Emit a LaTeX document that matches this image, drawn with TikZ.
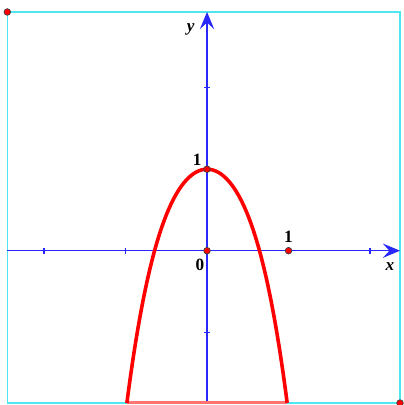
\documentclass[tikz,border=0pt]{standalone}
\usepackage{fontspec}
\setmainfont{Liberation Serif}
\usetikzlibrary{arrows.meta}
\definecolor{axisblue}{RGB}{40,40,250}
\definecolor{framecyan}{RGB}{80,230,240}

\begin{document}
\begin{tikzpicture}[
  axis/.style={draw=axisblue, line width=0.45pt,
    -{Stealth[length=6pt, width=5pt, inset=2.3pt]}},
  ticmark/.style={draw=axisblue, line width=0.45pt},
  curve/.style={draw=red, line width=1.25pt},
  dot/.style={circle, fill=red, draw=black!75, line width=0.25pt,
    inner sep=0pt, minimum size=2.3pt},
  lab/.style={font=\fontsize{6}{7}\selectfont\bfseries, inner sep=0pt}
]
\useasboundingbox (-2.540,-1.893) rectangle (2.405,3.076);
% frame
\coordinate (fsw) at (-2.450,-1.869);
\coordinate (fne) at (2.368,2.929);
\draw[framecyan, line width=0.45pt] (fsw) rectangle (fne);
% axes
\coordinate (xl) at (-2.450,0);
\coordinate (xr) at (2.368,0);
\coordinate (yb) at (0,-1.869);
\coordinate (yt) at (0,2.929);
\draw[axis] (xl) -- (xr);
\draw[axis] (yb) -- (yt);
\foreach \t in {-2,-1,2}
  \draw[ticmark] (\t,-0.037) -- (\t,0.037);
\foreach \t in {-1,2}
  \draw[ticmark] (-0.037,\t) -- (0.037,\t);
% graph of y = 1 - 2x^2 - x^4
\draw[red!55, line width=0.9pt] (-0.9834,-1.860) -- (0.9834,-1.860);
\draw[curve, domain=-0.9834:0.9834, samples=120, smooth]
  plot (\x, {1-2*\x*\x-\x*\x*\x*\x});
% points
\node[dot] (o) at (0,0) {};
\node[dot] (p1) at (0,1) {};
\node[dot] (q1) at (1,0) {};
\node[dot] (cnw) at (-2.450,2.929) {};
\node[dot] (cse) at (2.368,-1.869) {};
% labels
\node[lab] (l0) at (-0.086,-0.175) {0};
\node[lab] (ly1) at (-0.12,1.12) {1};
\node[lab] (lx1) at (1.0,0.17) {1};
\node[lab, font=\fontsize{6}{7}\selectfont\bfseries\itshape] (ly) at (-0.2,2.716) {y};
\node[lab, font=\fontsize{6}{7}\selectfont\bfseries\itshape] (lx) at (2.245,-0.196) {x};
\end{tikzpicture}
\end{document}
